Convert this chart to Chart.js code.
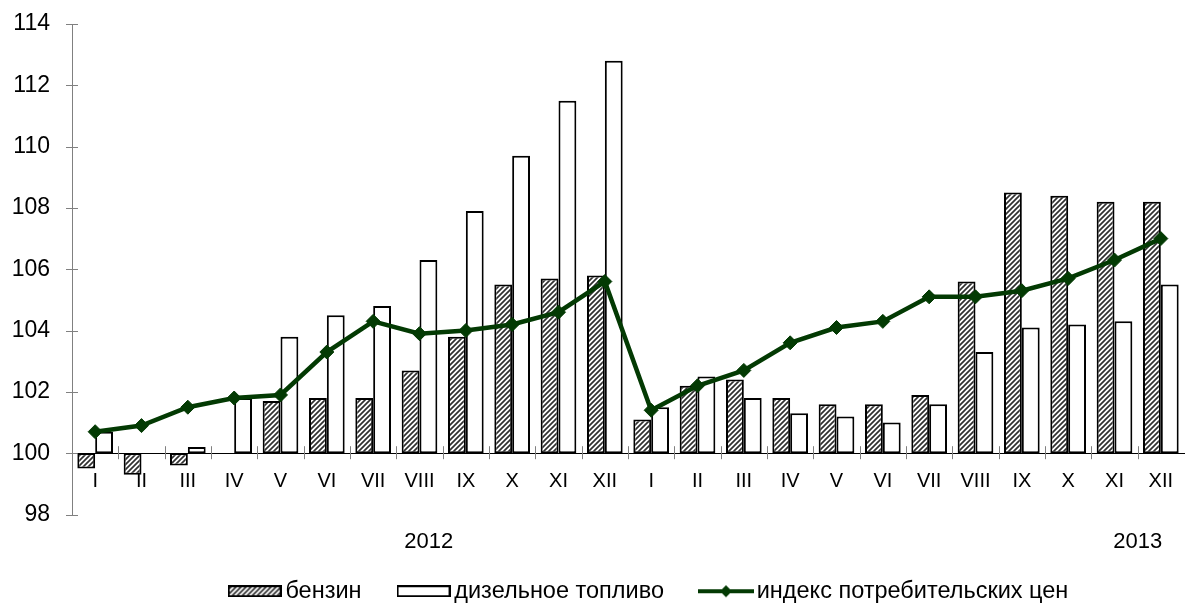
<!DOCTYPE html>
<html lang="ru">
<head>
    <meta charset="UTF-8">
    <title>Бензин, дизельное топливо и ИПЦ</title>
    <script src="https://cdn.jsdelivr.net/npm/chart.js"></script>
    <style>
        html, body { margin: 0; padding: 0; background: #fff; }
        #wrap { width: 1192px; height: 603px; }
    </style>
</head>
<body>
    <div id="wrap"><canvas id="chart" width="1192" height="603"></canvas></div>

    <script>
        // data
        const months = ['I', 'II', 'III', 'IV', 'V', 'VI', 'VII', 'VIII', 'IX', 'X', 'XI', 'XII'];
        const categories = months.concat(months);
        const petrol = [99.5, 99.3, 99.6, null, 101.7, 101.8, 101.8, 102.7, 103.8, 105.5, 105.7, 105.8,
                        101.1, 102.2, 102.4, 101.8, 101.6, 101.6, 101.9, 105.6, 108.5, 108.4, 108.2, 108.2];
        const diesel = [100.7, null, 100.2, 101.8, 103.8, 104.5, 104.8, 106.3, 107.9, 109.7, 111.5, 112.8,
                        101.5, 102.5, 101.8, 101.3, 101.2, 101.0, 101.6, 103.3, 104.1, 104.2, 104.3, 105.5];
        const cpi = [100.7, 100.9, 101.5, 101.8, 101.9, 103.3, 104.3, 103.9, 104.0, 104.2, 104.6, 105.6,
                     101.4, 102.2, 102.7, 103.6, 104.1, 104.3, 105.1, 105.1, 105.3, 105.7, 106.3, 107.0];
        const baseValue = 100;
        const yMin = 98, yMax = 114, yStep = 2;
        const years = ['2012', '2013'];
        const yearPos = [7.2, 22.5];   // category index under which the year sits
        const seriesNames = ['бензин', 'дизельное топливо', 'индекс потребительских цен'];

        const green = '#033a03';
        const font = 'Liberation Sans, Arial, sans-serif';
        const ctx = document.getElementById('chart').getContext('2d');

        function hatchCanvas() {
            const c = document.createElement('canvas');
            c.width = 5; c.height = 5;
            const g = c.getContext('2d');
            g.fillStyle = '#fff';
            g.fillRect(0, 0, 5, 5);
            g.strokeStyle = '#303030';
            g.lineWidth = 1.7;
            g.beginPath();
            g.moveTo(-1, 6); g.lineTo(6, -1);
            g.moveTo(-1, 1); g.lineTo(1, -1);
            g.moveTo(4, 6); g.lineTo(6, 4);
            g.stroke();
            return c;
        }
        const hatch = ctx.createPattern(hatchCanvas(), 'repeat');

        // legend symbols, by dataset index
        function boxIcon(fill) {
            const c = document.createElement('canvas');
            c.width = 54; c.height = 12;
            const g = c.getContext('2d');
            g.fillStyle = fill === 'hatch' ? g.createPattern(hatchCanvas(), 'repeat') : '#fff';
            g.fillRect(1, 1, 52, 10);
            g.strokeStyle = '#000';
            g.lineWidth = 2;
            g.strokeRect(1, 1, 52, 10);
            return c;
        }
        function lineIcon() {
            const c = document.createElement('canvas');
            c.width = 56; c.height = 16;
            const g = c.getContext('2d');
            g.strokeStyle = green;
            g.lineWidth = 4;
            g.beginPath(); g.moveTo(0, 8); g.lineTo(56, 8); g.stroke();
            g.fillStyle = green;
            g.beginPath(); g.moveTo(28, 2); g.lineTo(34, 8); g.lineTo(28, 14); g.lineTo(22, 8); g.closePath(); g.fill();
            return c;
        }
        const legendIcons = [boxIcon('hatch'), boxIcon('white'), lineIcon()];

        // ticks crossing both axes + year captions
        const axisExtras = {
            id: 'axisExtras',
            afterLayout(chart) {
                // nudge the legend row under the plot like in the original
                const lg = chart.legend;
                lg.left += 56; lg.right += 56;
                lg.top += 2; lg.bottom += 2;
            },
            beforeDatasetsDraw(chart) {
                const {ctx, scales: {x, y}} = chart;
                const y0 = y.getPixelForValue(baseValue);
                const step = x.getPixelForValue(1) - x.getPixelForValue(0);
                ctx.save();
                ctx.strokeStyle = '#808080';
                ctx.lineWidth = 1;
                ctx.beginPath();
                for (let i = 1; i < categories.length; i++) {
                    const px = Math.round(x.getPixelForValue(i) - step / 2) + 0.5;
                    ctx.moveTo(px, y0 - 7);
                    ctx.lineTo(px, y0 + 6);
                }
                y.ticks.forEach(t => {
                    const py = Math.round(y.getPixelForValue(t.value)) + 0.5;
                    ctx.moveTo(x.left - 6, py);
                    ctx.lineTo(x.left + 6, py);
                });
                ctx.stroke();
                ctx.fillStyle = '#000';
                ctx.font = '22px ' + font;
                ctx.textAlign = 'center';
                ctx.textBaseline = 'middle';
                years.forEach((yr, i) => ctx.fillText(yr, x.getPixelForValue(yearPos[i]), y.bottom + 27));
                ctx.restore();
            }
        };

        new Chart(ctx, {
            data: {
                labels: categories,
                datasets: [{
                    type: 'bar',
                    label: seriesNames[0],
                    data: petrol.map(v => v === null ? null : [baseValue, v]),
                    backgroundColor: hatch,
                    borderColor: '#000',
                    borderWidth: 2,
                    borderSkipped: false,
                    categoryPercentage: 0.77,
                    barPercentage: 1,
                    order: 1
                }, {
                    type: 'bar',
                    label: seriesNames[1],
                    data: diesel.map(v => v === null ? null : [baseValue, v]),
                    backgroundColor: '#fff',
                    borderColor: '#000',
                    borderWidth: 2,
                    borderSkipped: false,
                    categoryPercentage: 0.77,
                    barPercentage: 1,
                    order: 1
                }, {
                    type: 'line',
                    label: seriesNames[2],
                    data: cpi,
                    borderColor: green,
                    backgroundColor: green,
                    borderWidth: 4.5,
                    pointStyle: 'rectRot',
                    pointRadius: 7,
                    pointBackgroundColor: green,
                    pointBorderColor: green,
                    pointBorderWidth: 1,
                    tension: 0,
                    order: 0
                }]
            },
            options: {
                responsive: false,
                animation: false,
                layout: { padding: { top: 24, right: 0, bottom: -8, left: 0 } },
                plugins: {
                    tooltip: { enabled: false },
                    legend: {
                        position: 'bottom',
                        title: { display: true, text: '', font: { size: 10 }, padding: { top: 0, bottom: 8 } },
                        labels: {
                            usePointStyle: true,
                            pointStyleWidth: 38,
                            padding: 43,
                            color: '#000',
                            font: { family: font, size: 23.5 },
                            generateLabels(chart) {
                                const items = Chart.defaults.plugins.legend.labels.generateLabels(chart);
                                items.sort((a, b) => a.datasetIndex - b.datasetIndex);
                                items.forEach(it => { it.pointStyle = legendIcons[it.datasetIndex]; });
                                return items;
                            }
                        }
                    }
                },
                scales: {
                    x: {
                        type: 'category',
                        position: { y: baseValue },
                        offset: true,
                        grid: { display: false },
                        border: { display: true, color: '#000', width: 1 },
                        ticks: { color: '#000', font: { family: font, size: 20 }, padding: 8, maxRotation: 0, autoSkip: false }
                    },
                    y: {
                        min: yMin,
                        max: yMax,
                        grid: { display: false, tickLength: 20 },
                        border: { display: true, color: '#808080', width: 1 },
                        ticks: { stepSize: yStep, color: '#000', font: { family: font, size: 23 }, padding: 2 },
                        afterFit(scale) { scale.width = 72; }
                    }
                }
            },
            plugins: [axisExtras]
        });
    </script>
</body>
</html>
